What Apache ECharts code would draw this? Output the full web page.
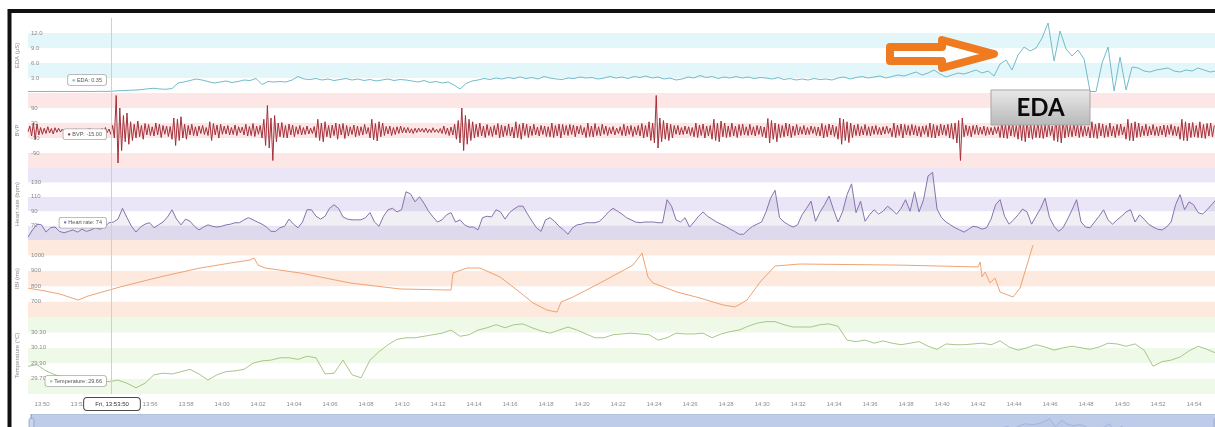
<!DOCTYPE html>
<html>
<head>
<meta charset="utf-8">
<script src="https://cdn.jsdelivr.net/npm/echarts@6/dist/echarts.min.js"></script>
<style>
  html, body { margin: 0; padding: 0; background: #ffffff; }
  #chart { width: 1215px; height: 427px; }
</style>
</head>
<body>
<div id="chart"></div>
<script>
// ---- Recording session: start time and per-signal sample spacing (minutes) ----
const startClock = '13:49:13';
const sessionMinutes = 65.94;
const cursorMinute = 4.61;          // hovered instant (minutes after start)
const cursorLabel = 'Fri, 13:53:50';

const edaStep = 1 / 3;
const bvpStep = 0.1;
const hrStep = 0.25;
const tempStep = 0.5;

// Electrodermal activity (µS)
const edaValues = [
  0.30,0.31,0.29,0.30,0.32,0.30,0.29,0.31,0.30,0.32,
  0.31,0.30,0.33,0.32,0.35,0.45,0.50,0.55,0.60,0.70,
  0.85,0.95,0.80,0.75,0.90,2.0,2.2,2.5,2.8,2.6,
  2.3,2.0,2.2,2.4,2.1,2.3,2.6,2.5,2.9,1.7,
  2.3,2.2,2.3,2.2,2.6,3.3,2.8,2.7,2.9,2.6,
  2.8,2.5,2.7,2.9,2.6,2.8,2.5,2.7,2.4,2.6,
  2.8,2.5,2.7,2.6,2.4,2.2,2.5,2.1,2.3,2.0,
  2.2,1.6,0.8,1.9,2.4,2.6,2.9,2.7,3.0,2.8,
  3.1,2.9,3.2,2.9,3.1,2.8,3.3,3.0,2.8,2.7,
  3.0,2.9,3.2,3.0,3.1,2.8,3.0,3.3,3.0,3.2,
  2.9,3.3,3.1,3.4,3.0,3.2,2.8,3.0,2.6,2.8,
  3.2,3.0,3.5,3.1,3.3,2.9,3.2,3.0,3.3,3.0,
  3.2,2.9,3.1,3.0,2.8,3.1,2.7,2.9,2.6,2.8,
  2.6,2.9,2.7,2.8,2.6,3.0,3.2,2.8,3.1,3.3,
  3.0,3.2,3.4,3.0,3.3,3.6,3.4,3.8,4.2,3.6,
  4.0,4.6,3.8,3.2,3.6,4.0,3.8,4.2,4.6,4.0,
  4.4,3.4,5.8,6.6,4.6,7.6,9.2,8.4,9.0,11.0,
  14.0,6.4,12.4,8.8,7.4,8.6,6.8,0.3,0.3,6.0,
  9.2,0.4,7.2,0.6,5.2,5.0,4.4,4.2,4.6,4.8,
  5.0,4.4,4.2,4.6,4.4,5.0,4.6,4.2,4.4
];

// Blood volume pulse, one row per minute
const bvpValues = [
  -5,18,-22,30,-35,26,-18,12,-15,9,
  -12,15,-10,8,-14,11,-7,9,-6,5,
  -4,6,-5,3,-6,4,-3,5,-4,3,
  -5,4,-6,5,-3,6,-4,3,-5,4,
  -6,8,-10,12,-8,6,-15,20,-30,140,
  -130,90,-80,60,-45,70,-55,35,-40,25,
  -30,38,-25,20,-35,28,-18,24,-20,15,
  -22,30,-18,25,-28,20,-15,18,-24,16,
  -35,50,-60,45,-40,55,-30,25,-35,20,
  -18,25,-20,15,-22,18,-12,20,-16,12,
  -20,35,-40,28,-18,22,-30,25,-15,18,
  -14,20,-18,12,-16,22,-20,15,-10,14,
  -18,25,-22,16,-20,28,-24,18,-15,20,
  -30,45,-60,100,-70,50,-120,60,-45,30,
  -25,32,-28,20,-30,26,-18,22,-25,15,
  -15,20,-18,12,-16,18,-14,10,-12,16,
  -28,45,-40,30,-45,35,-25,20,-30,22,
  -20,30,-35,25,-18,28,-32,20,-22,15,
  -16,22,-25,18,-20,15,-18,24,-14,12,
  -30,45,-38,28,-42,35,-25,30,-20,16,
  -14,18,-20,12,-16,15,-12,18,-10,12,
  -9,12,-10,7,-12,9,-8,10,-6,8,
  -7,10,-9,6,-8,11,-7,5,-9,8,
  -12,18,-15,10,-20,14,-18,25,-35,40,
  -50,90,-80,60,-55,45,-40,35,-30,25,
  -25,30,-22,18,-28,24,-20,15,-24,20,
  -18,28,-30,22,-25,18,-20,26,-22,14,
  -30,35,-28,24,-35,30,-20,25,-28,18,
  -20,25,-18,14,-22,20,-16,18,-24,15,
  -25,30,-28,20,-22,26,-30,24,-18,20,
  -20,24,-16,22,-25,18,-14,20,-18,12,
  -28,30,-24,18,-26,28,-20,15,-22,25,
  -15,18,-20,12,-14,16,-18,10,-12,15,
  -20,25,-22,18,-16,20,-24,15,-18,20,
  -22,28,-30,20,-25,35,-40,30,-50,140,
  -70,50,-45,40,-35,30,-40,25,-30,20,
  -15,20,-18,12,-16,18,-14,15,-20,12,
  -25,30,-28,22,-20,26,-30,18,-22,20,
  -35,45,-40,30,-45,38,-25,30,-28,18,
  -25,30,-22,18,-28,24,-20,26,-18,15,
  -20,25,-18,15,-22,20,-16,18,-24,14,
  -30,48,-50,40,-35,30,-45,25,-28,20,
  -25,30,-22,26,-28,18,-20,24,-18,15,
  -15,20,-18,12,-16,18,-12,15,-20,14,
  -22,28,-30,20,-25,26,-18,22,-24,16,
  -35,50,-55,45,-40,35,-48,30,-28,22,
  -20,25,-22,16,-18,24,-20,15,-22,18,
  -15,20,-16,12,-18,15,-14,18,-12,10,
  -25,30,-28,22,-20,26,-30,24,-18,20,
  -20,24,-18,20,-22,16,-25,18,-15,20,
  -25,30,-28,24,-30,20,-22,26,-18,22,
  -20,25,-30,28,-35,30,-50,40,-120,50,
  -25,22,-20,18,-25,20,-15,22,-18,14,
  -15,18,-20,14,-16,12,-18,15,-12,16,
  -28,35,-30,25,-32,28,-22,30,-25,20,
  -35,45,-40,32,-45,38,-30,28,-35,22,
  -28,35,-30,25,-32,22,-26,30,-20,18,
  -40,50,-45,35,-50,42,-30,35,-25,20,
  -25,30,-22,26,-28,20,-24,18,-22,15,
  -30,35,-28,25,-32,30,-22,26,-28,20,
  -25,30,-22,18,-28,24,-20,26,-18,15,
  -35,45,-40,30,-42,35,-28,30,-25,18,
  -20,25,-22,16,-18,24,-20,15,-22,18,
  -18,22,-25,20,-16,24,-20,18,-22,15,
  -35,45,-40,35,-42,30,-28,32,-25,20,
  -28,35,-30,24,-32,28,-22,30,-25,20
];

// Heart rate (bpm)
const hrValues = [
  54,64,72,71,61,67,68,62,60,62,
  64,61,65,62,64,67,65,68,74,75,
  79,94,81,69,61,68,72,74,67,71,
  75,82,92,79,71,79,76,69,64,68,
  71,69,68,69,71,72,74,74,78,81,
  78,75,72,68,62,62,67,69,79,72,
  67,75,92,92,83,79,83,94,99,94,
  82,79,78,78,78,81,88,75,69,83,
  92,94,89,92,117,114,103,110,101,90,
  82,75,78,85,88,75,78,71,68,68,
  64,81,83,82,92,89,79,88,93,97,
  97,86,76,67,62,78,81,76,69,64,
  58,67,71,72,74,74,74,76,82,89,
  94,90,86,81,78,75,74,75,75,75,
  74,74,106,97,78,75,81,68,75,83,
  89,83,79,75,72,69,65,62,58,58,
  64,69,72,75,89,108,119,81,75,71,
  68,71,85,94,104,76,89,99,111,92,
  75,89,113,128,88,104,76,85,92,86,
  90,97,92,86,94,106,90,117,89,106,
  139,144,93,81,75,71,67,64,61,65,
  69,68,65,67,79,99,106,83,72,78,
  85,93,89,72,83,94,108,81,69,62,
  67,79,92,106,75,68,67,75,83,92,
  78,72,78,83,89,92,75,85,79,72,
  68,65,64,68,75,99,113,92,103,99,
  88,86,92,99,106
];

// Inter-beat interval (ms), irregularly sampled
const ibiMinutes = [
  0,0.94,1.78,2.78,3.33,5.11,7.33,9.56,11.22,12.33,
  12.56,12.78,13.17,15.11,17.89,20.67,23.5,23.61,24.39,25.11,
  26.22,27.17,28.06,28.83,29.39,29.5,29.61,30.28,31.78,33.61,
  34.11,34.44,34.72,36.06,37.33,38.61,39.28,39.94,40.67,41.5,
  42.89,48.44,52.78,52.89,53.0,53.17,53.44,53.72,54.0,54.72,
  55.11,55.83
];
const ibiValues = [
  788,769,749,710,736,795,860,918,950,970,
  983,937,918,886,821,782,775,886,918,918,
  860,775,691,645,632,626,697,730,821,937,
  1015,860,821,762,723,678,665,710,827,931,
  944,937,925,957,860,892,821,853,762,730,
  788,1067
];

// Skin temperature (°C)
const tempValues = [
  29.86,29.88,29.80,29.75,29.72,29.71,29.72,29.69,29.67,29.66,
  29.68,29.64,29.58,29.64,29.75,29.77,29.76,29.79,29.82,29.76,
  29.68,29.75,29.79,29.80,29.82,29.90,29.93,29.94,29.97,29.97,
  29.95,29.99,29.97,29.76,29.77,29.94,29.75,29.71,29.94,30.05,
  30.14,30.21,30.23,30.23,30.25,30.27,30.29,30.33,30.25,30.27,
  30.33,30.36,30.40,30.36,30.40,30.41,30.36,30.32,30.29,30.33,
  30.37,30.33,30.28,30.23,30.23,30.27,30.28,30.29,30.28,30.27,
  30.20,30.23,30.29,30.28,30.28,30.29,30.23,30.28,30.31,30.33,
  30.38,30.42,30.44,30.44,30.40,30.37,30.37,30.37,30.40,30.41,
  30.38,30.20,30.18,30.20,30.16,30.19,30.16,30.14,30.16,30.18,
  30.12,30.08,30.15,30.14,30.14,30.15,30.16,30.14,30.19,30.11,
  30.07,30.10,30.14,30.11,30.07,30.10,30.12,30.10,30.08,30.11,
  30.16,30.15,30.12,30.15,30.07,29.86,29.92,29.94,29.98,30.06,
  30.12,30.08,30.03
];

// Time axis labels
const timeLabels = [
  '13:50','13:52','13:54','13:56','13:58','14:00','14:02','14:04','14:06','14:08',
  '14:10','14:12','14:14','14:16','14:18','14:20','14:22','14:24','14:26','14:28',
  '14:30','14:32','14:34','14:36','14:38','14:40','14:42','14:44','14:46','14:48',
  '14:50','14:52','14:54'
];

// ---- helpers ----
const toMinutes = s => { const p = s.split(':').map(Number); return p[0] * 60 + p[1] + (p[2] || 0) / 60; };
const pad2 = n => String(n).padStart(2, '0');
const clockText = m => pad2(Math.floor(m / 60)) + ':' + pad2(Math.floor(m % 60));
const t0 = toMinutes(startClock);
const tEnd = t0 + sessionMinutes;
const regular = (vals, step) => vals.map((v, i) => [t0 + i * step, v]);
const tickValues = timeLabels.map(toMinutes);

const FONT = '"Liberation Sans", Arial, sans-serif';

// Panel layout and styling, one grid per signal
const panels = [
  { key: 'eda',  top: 18,  height: 75, name: 'EDA (µS)',          min: 0,    max: 15,   interval: 3,   digits: 1, bands: ['#ffffff', '#e3f6fa'], color: '#72bbca', label: 'EDA' },
  { key: 'bvp',  top: 93,  height: 75, name: 'BVP',               min: -150, max: 150,  interval: 60,  digits: 0, bands: ['#fde6e6', '#ffffff'], color: '#a3303a', label: 'BVP' },
  { key: 'hr',   top: 168, height: 72, name: 'Heart rate (bpm)',  min: 50,   max: 150,  interval: 20,  digits: 0, bands: ['#ebe6f7', '#ffffff'], color: '#8474ad', label: 'Heart rate' },
  { key: 'ibi',  top: 240, height: 77, name: 'IBI (ms)',          min: 600,  max: 1100, interval: 100, digits: 0, bands: ['#fde9dd', '#ffffff'], color: '#efa374', label: null },
  { key: 'temp', top: 317, height: 77, name: 'Temperature (°C)',  min: 29.5, max: 30.5, interval: 0.2, digits: 2, bands: ['#eef9e7', '#ffffff'], color: '#a5c887', label: 'Temperature' }
];

const seriesData = {
  eda: regular(edaValues, edaStep),
  bvp: regular(bvpValues, bvpStep),
  hr: regular(hrValues, hrStep),
  ibi: ibiMinutes.map((m, i) => [t0 + m, ibiValues[i]]),
  temp: regular(tempValues, tempStep)
};
const cursorStep = { eda: edaStep, bvp: bvpStep, hr: hrStep, temp: tempStep };
const cursorSource = { eda: edaValues, bvp: bvpValues, hr: hrValues, temp: tempValues };

const chart = echarts.init(document.getElementById('chart'), null, { renderer: 'canvas' });

const option = {
  animation: false,
  backgroundColor: '#ffffff',
  grid: panels.map(p => ({ left: 28, right: 0, top: p.top, height: p.height })),
  xAxis: panels.map((p, i) => ({
    type: 'value', gridIndex: i, min: t0, max: tEnd,
    show: i === panels.length - 1,
    axisLine: { show: false }, axisTick: { show: false }, splitLine: { show: false },
    axisLabel: {
      customValues: tickValues, formatter: v => clockText(v + 1e-6),
      fontSize: 6, color: '#8c8c8c', margin: 7, fontFamily: FONT
    }
  })),
  yAxis: panels.map((p, i) => ({
    type: 'value', gridIndex: i, min: p.min, max: p.max, interval: p.interval,
    name: p.name, nameLocation: 'middle', nameGap: 8, nameRotate: 90,
    nameTextStyle: { fontSize: 6, color: '#8c8c8c', fontFamily: FONT },
    axisLine: { show: false }, axisTick: { show: false }, splitLine: { show: false },
    splitArea: { show: true, areaStyle: { color: p.bands } },
    axisLabel: {
      inside: true, margin: 3, fontSize: 6, color: '#8c8c8c', fontFamily: FONT,
      showMinLabel: false, showMaxLabel: false,
      formatter: v => v.toFixed(p.digits)
    }
  })),
  dataZoom: [{
    type: 'slider', xAxisIndex: panels.map((p, i) => i), filterMode: 'none',
    left: 28, right: 0, top: 414, height: 24,
    showDetail: false, brushSelect: false, moveHandleSize: 0,
    backgroundColor: '#dbe2f2', borderColor: '#b3c0dc',
    fillerColor: 'rgba(150,174,222,0.42)',
    dataBackground: { lineStyle: { color: '#97abd6', width: 0.8 }, areaStyle: { color: '#c2cfea', opacity: 0.7 } },
    handleStyle: { color: '#cbd6ed', borderColor: '#98a9cf' }
  }],
  series: panels.map((p, i) => ({
    name: p.name, type: 'line', xAxisIndex: i, yAxisIndex: i,
    data: seriesData[p.key], showSymbol: false, symbol: 'none',
    lineStyle: { color: p.color, width: 1 },
    itemStyle: { color: p.color },
    areaStyle: p.key === 'hr' ? { color: 'rgba(150,140,178,0.20)' } : undefined,
    markLine: {
      silent: true, symbol: 'none', label: { show: false },
      lineStyle: { color: '#cfcfcf', width: 1, type: 'solid' },
      data: [{ xAxis: t0 + cursorMinute }]
    }
  }))
};
chart.setOption(option);

// ---- overlays: hover readouts, cursor time, annotation ----
const cursorX = chart.convertToPixel({ xAxisIndex: 0 }, t0 + cursorMinute);
const graphics = [];

panels.forEach((p, i) => {
  if (!p.label) return;
  const step = cursorStep[p.key];
  const idx = Math.round(cursorMinute / step);
  const value = cursorSource[p.key][idx];
  const pt = chart.convertToPixel({ xAxisIndex: i, yAxisIndex: i }, [t0 + idx * step, value]);
  const y = Math.max(p.top + 8, Math.min(p.top + p.height - 13, pt[1]));
  const shown = p.key === 'hr' ? String(value) : value.toFixed(2);
  graphics.push({
    type: 'text', x: cursorX - 5, y: y, z: 60,
    style: {
      text: '{d|●} ' + p.label + ': ' + shown,
      font: '5.5px ' + FONT, fill: '#555', align: 'right', verticalAlign: 'middle',
      backgroundColor: '#ffffff', borderColor: '#a8a8a8', borderWidth: 0.8, borderRadius: 2,
      padding: [2, 4, 2, 4],
      rich: { d: { fill: p.color, font: '5.5px ' + FONT } }
    }
  });
});

graphics.push({
  type: 'text', x: cursorX + 1, y: 404, z: 60,
  style: {
    text: cursorLabel, font: '6px ' + FONT, fill: '#333', align: 'center', verticalAlign: 'middle',
    backgroundColor: '#ffffff', borderColor: '#4a4a4a', borderWidth: 1, borderRadius: 3,
    padding: [3, 11, 3, 11]
  }
});

// Arrow pointing at the EDA rise
graphics.push({
  type: 'polygon', z: 70,
  shape: { points: [[890, 47], [942, 47], [942, 40], [994, 54], [942, 68], [942, 61], [890, 61]] },
  style: { fill: '#ffffff', stroke: '#f07a1f', lineWidth: 8, lineJoin: 'round' }
});

// "EDA" callout
graphics.push({
  type: 'rect', z: 70,
  shape: { x: 991, y: 90, width: 99, height: 35 },
  style: {
    fill: { type: 'linear', x: 0, y: 0, x2: 0, y2: 1, colorStops: [{ offset: 0, color: '#e9e9e9' }, { offset: 1, color: '#b8b8b8' }] },
    stroke: '#a5a5a5', lineWidth: 1
  }
});
graphics.push({
  type: 'text', z: 71, x: 1040.5, y: 108,
  style: { text: 'EDA', font: 'bold 24px Lato, "Liberation Sans", sans-serif', fill: '#0a0a0a', align: 'center', verticalAlign: 'middle' }
});

// Outer frame
graphics.push({
  type: 'rect', z: 80, silent: true,
  shape: { x: 9.5, y: 11, width: 1230, height: 440 },
  style: { fill: 'none', stroke: '#111111', lineWidth: 4 }
});

chart.setOption({ graphic: graphics });
</script>
</body>
</html>
